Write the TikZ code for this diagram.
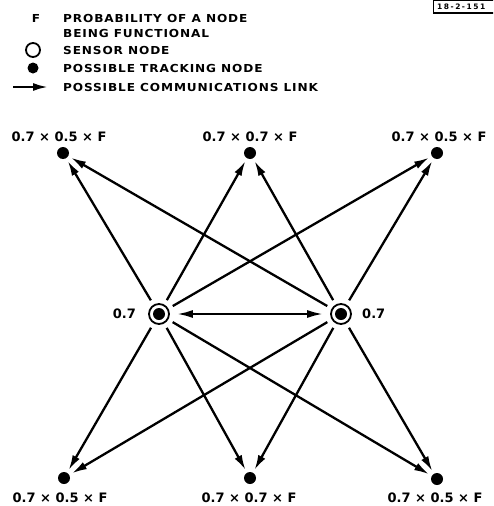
\documentclass[tikz,border=0pt]{standalone}
\usepackage{fontspec}
\setmainfont{DejaVu Sans}
\newfontfamily\labfont[LetterSpace=8,FakeStretch=1.1]{DejaVu Sans Bold}
\newfontfamily\numfont{DejaVu Sans Bold}
\newfontfamily\tagfont[LetterSpace=20]{DejaVu Sans Bold}
\usetikzlibrary{arrows.meta}
\begin{document}
\begin{tikzpicture}[x=1pt,y=-1pt,
  sensor/.style={circle,draw,line width=1.8pt,minimum size=20pt,inner sep=0pt,
    path picture={\fill (path picture bounding box.center) circle (6pt);}},
  tnode/.style={circle,fill,minimum size=12pt,inner sep=0pt},
  link/.style={line width=2.3pt,-{Latex[length=15pt,width=8pt]},shorten <=5pt,shorten >=3pt},
  biLink/.style={line width=2.3pt,{Latex[length=16pt,width=8pt]}-{Latex[length=16pt,width=8pt]},shorten <=7pt,shorten >=7pt},
  legtext/.style={anchor=west,inner sep=0pt,font=\labfont\fontsize{11}{13}\selectfont},
  prob/.style={inner sep=0pt,font=\numfont\fontsize{13}{15}\selectfont},
  tag/.style={anchor=west,inner sep=0pt,font=\tagfont\fontsize{7.5}{8.5}\selectfont}
  ]
\useasboundingbox (0,0) rectangle (493,506);
\clip (0,0) rectangle (493,506);
% tag
\node[tag] (tag) at (437,6.8) {18-2-151};
\draw[line width=1.3pt] (496,0.7) -- (433.6,0.7) -- (433.6,13) -- (496,13);
% legend
\node[inner sep=0pt,font=\labfont\fontsize{11}{13}\selectfont] (legF) at (36,18) {F};
\node[legtext] (leg1) at (63,18) {PROBABILITY OF A NODE};
\node[legtext] (leg1b) at (63,33) {BEING FUNCTIONAL};
\node[circle,draw,line width=1.8pt,minimum size=14pt,inner sep=0pt] (legS) at (33,50) {};
\node[legtext] (leg2) at (63,50) {SENSOR NODE};
\node[circle,fill,minimum size=11pt,inner sep=0pt] (legT) at (33,68) {};
\node[legtext] (leg3) at (63,68) {POSSIBLE TRACKING NODE};
\coordinate (la) at (13,87);
\coordinate (lb) at (48,87);
\draw[line width=2.3pt,-{Latex[length=15pt,width=8pt]}] (la) -- (lb);
\node[legtext] (leg4) at (63,87) {POSSIBLE COMMUNICATIONS LINK};
% nodes
\node[sensor] (L) at (159,314) {};
\node[sensor] (R) at (341,314) {};
\node[tnode] (TL) at (63,153) {};
\node[tnode] (TM) at (250,153) {};
\node[tnode] (TR) at (437,153) {};
\node[tnode] (BL) at (64,478) {};
\node[tnode] (BM) at (250,478) {};
\node[tnode] (BR) at (437,479) {};
% labels
\node[prob,anchor=east] (lL) at (136,314) {0.7};
\node[prob,anchor=west] (lR) at (362,314) {0.7};
\node[prob] (pTL) at (59,137) {0.7 × 0.5 × F};
\node[prob] (pTM) at (250,137) {0.7 × 0.7 × F};
\node[prob] (pTR) at (439,137) {0.7 × 0.5 × F};
\node[prob] (pBL) at (60,498) {0.7 × 0.5 × F};
\node[prob] (pBM) at (249,498) {0.7 × 0.7 × F};
\node[prob] (pBR) at (435,498) {0.7 × 0.5 × F};
% links
\foreach \s in {L,R}{
  \foreach \t in {TL,TM,TR,BL,BM,BR}{
    \draw[link] (\s) -- (\t);
  }
}
\draw[biLink] (L) -- (R);
\end{tikzpicture}
\end{document}
